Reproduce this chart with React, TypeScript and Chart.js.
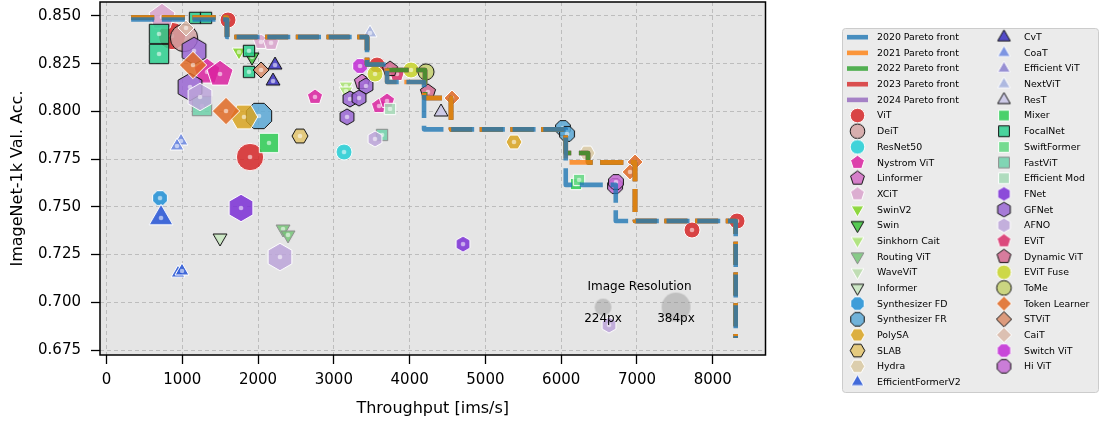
import React, { useEffect, useRef } from 'react';
import { Chart, registerables } from 'chart.js';

Chart.register(...registerables);

const FONT = '"DejaVu Sans", "Liberation Sans", sans-serif';

// ---------------- axes ----------------
const X_TICKS = [0, 1000, 2000, 3000, 4000, 5000, 6000, 7000, 8000];
const Y_TICKS = [0.675, 0.7, 0.725, 0.75, 0.775, 0.8, 0.825, 0.85];
const X_LIMITS = [-86, 8696];
const Y_LIMITS = [0.6724, 0.8573];
const X_TITLE = 'Throughput [ims/s]';
const Y_TITLE = 'ImageNet-1k Val. Acc.';

// ---------------- Pareto fronts: [throughput, accuracy] ----------------
const PARETO_YEARS = ['2020', '2021', '2022', '2023', '2024'];
const PARETO_2020 = [[325, 0.8481], [1590, 0.8481], [3438, 0.839], [3702, 0.8246], [4190, 0.8154], [6060, 0.7906], [6720, 0.7615], [8303, 0.7426], [8303, 0.6813]];
const PARETO_2021 = [[325, 0.8492], [1590, 0.8492], [3438, 0.839], [3702, 0.8246], [4190, 0.8154], [4546, 0.807], [6060, 0.7906], [6974, 0.7733], [8303, 0.7426], [8303, 0.6813]];
const PARETO_2022 = [[325, 0.8492], [1590, 0.8492], [3438, 0.839], [3702, 0.8246], [4203, 0.8217], [4546, 0.807], [6060, 0.7906], [6354, 0.7782], [6974, 0.7733], [8303, 0.7426], [8303, 0.6813]];
const PARETO_2023 = [[325, 0.8492], [1590, 0.8492], [3438, 0.839], [3702, 0.8246], [4203, 0.8217], [4546, 0.807], [6060, 0.7906], [6354, 0.7782], [6974, 0.7733], [8303, 0.7426], [8303, 0.6813]];
const PARETO_2024 = [[325, 0.8492], [1590, 0.8492], [3438, 0.839], [3702, 0.8246], [4203, 0.8217], [4546, 0.807], [6060, 0.7906], [6354, 0.7782], [6974, 0.7733], [8303, 0.7426], [8303, 0.6813]];
const PARETO_COLORS = ['rgba(31,119,180,0.8)', 'rgba(255,127,14,0.8)', 'rgba(44,160,44,0.8)', 'rgba(214,39,40,0.8)', 'rgba(148,103,189,0.8)'];

// ---------------- models: [throughput, accuracy, image resolution] ----------------
const VIT = [[864, 0.8395, 384], [1603, 0.8479, 224], [1894, 0.7761, 384], [3570, 0.8243, 224], [7726, 0.7379, 224], [8320, 0.7426, 224]];
const DEIT = [[1023, 0.8385, 384]];
const RESNET50 = [[3134, 0.7787, 224]];
const NYSTROM_VIT = [[1326, 0.8207, 384], [1498, 0.8196, 384], [2751, 0.8076, 224], [3596, 0.8028, 224], [3702, 0.8055, 224]];
const LINFORMER = [[3372, 0.8154, 224]];
const XCIT = [[732, 0.8495, 384], [2039, 0.8364, 224], [2171, 0.8359, 224]];
const SWINV2 = [[1748, 0.8311, 224]];
const SWIN = [[1920, 0.8285, 224]];
const SINKHORN_CAIT = [[3160, 0.8133, 224], [3160, 0.8107, 224]];
const ROUTING_VIT = [[2329, 0.7384, 224], [2395, 0.7353, 224]];
const WAVEVIT = [];
const INFORMER = [[1498, 0.7337, 224]];
const SYNTH_FD = [[706, 0.7546, 224]];
const SYNTH_FR = [[2012, 0.7976, 384], [6023, 0.7913, 224], [6077, 0.7882, 224]];
const POLYSA = [[1814, 0.7971, 384], [5377, 0.784, 224]];
const SLAB = [[2553, 0.7871, 224]];
const HYDRA = [[6341, 0.7782, 224]];
const EFFICIENTFORMERV2 = [[719, 0.7442, 384], [943, 0.7153, 224], [996, 0.7164, 224]];
const CVT = [[2224, 0.8243, 224], [2197, 0.8159, 224]];
const COAT = [[983, 0.7845, 224], [930, 0.7819, 224]];
const EFFICIENT_VIT = [];
const NEXTVIT = [[3477, 0.8411, 224]];
const REST = [[4414, 0.7997, 224]];
const MIXER = [[2144, 0.7835, 384], [6195, 0.762, 224]];
const FOCALNET = [[693, 0.8406, 384], [693, 0.8301, 384], [1168, 0.849, 224], [1313, 0.849, 224], [1880, 0.8317, 224], [1880, 0.8207, 224]];
const SWIFTFORMER = [[6235, 0.7641, 224]];
const FASTVIT = [[1260, 0.8028, 384], [3636, 0.7877, 224]];
const EFFICIENT_MOD = [[3741, 0.8013, 224]];
const FNET = [[1775, 0.7494, 384], [4705, 0.7305, 224]];
const GFNET = [[1155, 0.8317, 384], [1102, 0.8128, 384], [3424, 0.8133, 224], [3213, 0.8065, 224], [3332, 0.807, 224], [3174, 0.7971, 224]];
const AFNO = [[1234, 0.8076, 384], [2289, 0.7237, 384], [3543, 0.7856, 224], [6631, 0.6881, 224]];
const EVIT = [[3833, 0.8196, 224]];
const DYNAMIC_VIT = [[3741, 0.8222, 224], [4242, 0.8102, 224]];
const EVIT_FUSE = [[3543, 0.8196, 224], [4018, 0.8217, 224]];
const TOME = [[4216, 0.8207, 224]];
const TOKEN_LEARNER = [[1141, 0.8243, 384], [1577, 0.8002, 384], [4559, 0.807, 224], [6974, 0.7735, 224], [6908, 0.7683, 224]];
const STVIT = [[2039, 0.8217, 224]];
const CAIT = [[1049, 0.8437, 224]];
const SWITCH_VIT = [[3346, 0.8238, 224]];
const HI_VIT = [[6710, 0.7609, 224], [6723, 0.763, 224]];

// image-resolution key
const RES_KEY = [[6552, 0.6975, 224], [7515, 0.6975, 384]];
const RES_KEY_LABELS = ['224px', '384px'];
const RES_KEY_TITLE = 'Image Resolution';

// name, data, marker, fill, edge ('k' black, 'w' white, 'g' grey), centre dot
const MODELS = [
  ['ViT', VIT, 'o', '#d62728', 'w', true],
  ['DeiT', DEIT, 'o', '#d4a3a3', 'k', false],
  ['ResNet50', RESNET50, 'o', '#22cfd6', 'w', true],
  ['Nystrom ViT', NYSTROM_VIT, 'p', '#da22a0', 'w', true],
  ['Linformer', LINFORMER, 'p', '#d26cc4', 'k', true],
  ['XCiT', XCIT, 'p', '#d9a3cc', 'w', true],
  ['SwinV2', SWINV2, 'v', '#7ed321', 'w', true],
  ['Swin', SWIN, 'v', '#3cc43a', 'k', true],
  ['Sinkhorn Cait', SINKHORN_CAIT, 'v', '#a8e370', 'w', true],
  ['Routing ViT', ROUTING_VIT, 'v', '#76c577', 'g', true],
  ['WaveViT', WAVEVIT, 'v', '#b9dbaa', 'w', true],
  ['Informer', INFORMER, 'v', '#c8e8c0', 'k', false],
  ['Synthesizer FD', SYNTH_FD, '8', '#1f8fd6', 'w', true],
  ['Synthesizer FR', SYNTH_FR, '8', '#5ba8d6', 'k', true],
  ['PolySA', POLYSA, 'H', '#d9a521', 'w', true],
  ['SLAB', SLAB, 'H', '#e3c46c', 'k', true],
  ['Hydra', HYDRA, 'H', '#d9c9a2', 'w', true],
  ['EfficientFormerV2', EFFICIENTFORMERV2, '^', '#2453d6', 'w', true],
  ['CvT', CVT, '^', '#3a30c2', 'k', true],
  ['CoaT', COAT, '^', '#6a86e0', 'w', true],
  ['Efficient ViT', EFFICIENT_VIT, '^', '#8a80cf', 'w', true],
  ['NextViT', NEXTVIT, '^', '#a3b0de', 'w', true],
  ['ResT', REST, '^', '#c9c5e8', 'k', false],
  ['Mixer', MIXER, 's', '#2ecc55', 'w', true],
  ['FocalNet', FOCALNET, 's', '#2dd08f', 'k', true],
  ['SwiftFormer', SWIFTFORMER, 's', '#62d881', 'w', true],
  ['FastViT', FASTVIT, 's', '#6fd1aa', 'g', true],
  ['Efficient Mod', EFFICIENT_MOD, 's', '#a4d9b6', 'w', true],
  ['FNet', FNET, 'h', '#7b2fd6', 'w', true],
  ['GFNet', GFNET, 'h', '#9a66d4', 'k', true],
  ['AFNO', AFNO, 'h', '#bca4d9', 'w', true],
  ['EViT', EVIT, 'p', '#d92e6a', 'w', true],
  ['Dynamic ViT', DYNAMIC_VIT, 'p', '#d4688f', 'k', true],
  ['EViT Fuse', EVIT_FUSE, 'o', '#c8d52a', 'w', true],
  ['ToMe', TOME, 'o', '#c5d16f', 'k', false],
  ['Token Learner', TOKEN_LEARNER, 'D', '#e06a24', 'w', true],
  ['STViT', STVIT, 'D', '#d98c68', 'k', true],
  ['CaiT', CAIT, 'D', '#d9b8a8', 'w', true],
  ['Switch ViT', SWITCH_VIT, '8', '#c22ad6', 'w', true],
  ['Hi ViT', HI_VIT, '8', '#c46ad4', 'k', true],
];

const radiusFor = (res) => (8 * res) / 224;
const EDGE = { k: '#111111', w: '#ffffff', g: '#8c8c8c' };

function shapePath(ctx, shape, cx, cy, r) {
  ctx.beginPath();
  if (shape === 'o') {
    ctx.arc(cx, cy, r, 0, Math.PI * 2);
    return;
  }
  const spec = { p: [5, 0], '^': [3, 0], v: [3, Math.PI], s: [4, Math.PI / 4], D: [4, 0], h: [6, 0], H: [6, Math.PI / 6], '8': [8, Math.PI / 8] }[shape];
  const n = spec[0];
  const rot = spec[1];
  for (let i = 0; i < n; i++) {
    const a = rot + (i * 2 * Math.PI) / n;
    const x = cx + r * Math.sin(a);
    const y = cy - r * Math.cos(a);
    if (i === 0) ctx.moveTo(x, y);
    else ctx.lineTo(x, y);
  }
  ctx.closePath();
}

const cache = new Map();
function markerCanvas(shape, fill, edge, r, dot, alpha = 0.85) {
  const key = [shape, fill, edge, r, dot, alpha].join('|');
  if (cache.has(key)) return cache.get(key);
  const size = Math.ceil(2 * r + 4);
  const c = document.createElement('canvas');
  c.width = size;
  c.height = size;
  const ctx = c.getContext('2d');
  const cx = size / 2;
  const cy = size / 2;
  shapePath(ctx, shape, cx, cy, r);
  ctx.globalAlpha = alpha;
  ctx.fillStyle = fill;
  ctx.fill();
  if (edge) {
    ctx.globalAlpha = 1;
    ctx.lineWidth = 1;
    ctx.lineJoin = 'miter';
    ctx.strokeStyle = EDGE[edge];
    ctx.stroke();
  }
  if (dot) {
    ctx.beginPath();
    ctx.arc(cx, cy, 2.3, 0, Math.PI * 2);
    ctx.globalAlpha = 1;
    ctx.fillStyle = 'rgba(255,255,255,0.55)';
    ctx.fill();
  }
  cache.set(key, c);
  return c;
}

// ---------------- plugins ----------------
const decorPlugin = {
  id: 'decor',
  beforeDraw(chart) {
    const { ctx, chartArea: a } = chart;
    ctx.save();
    ctx.fillStyle = '#e5e5e5';
    ctx.fillRect(a.left, a.top, a.right - a.left, a.bottom - a.top);
    ctx.restore();
  },
  afterDatasetsDraw(chart) {
    const { ctx, chartArea: a, scales } = chart;
    const xs = scales.x;
    const ys = scales.y;
    ctx.save();
    ctx.fillStyle = '#000';
    ctx.font = `12px ${FONT}`;
    ctx.textAlign = 'center';
    ctx.textBaseline = 'middle';
    const titleX = (RES_KEY[0][0] + RES_KEY[1][0]) / 2;
    ctx.fillText(RES_KEY_TITLE, xs.getPixelForValue(titleX), ys.getPixelForValue(0.708));
    RES_KEY.forEach((p, i) => {
      ctx.fillText(RES_KEY_LABELS[i], xs.getPixelForValue(p[0]), ys.getPixelForValue(0.6912));
    });
    ctx.strokeStyle = '#000';
    ctx.lineWidth = 1.5;
    ctx.strokeRect(a.left, a.top, a.right - a.left, a.bottom - a.top);
    ctx.restore();
  },
  afterDraw(chart) {
    const ctx = chart.ctx;
    ctx.save();
    const bx = 842.5, by = 28.5, bw = 256, bh = 364;
    ctx.beginPath();
    ctx.roundRect(bx, by, bw, bh, 3);
    ctx.fillStyle = '#ebebeb';
    ctx.fill();
    ctx.strokeStyle = '#cccccc';
    ctx.lineWidth = 1;
    ctx.stroke();

    const entries = [];
    PARETO_YEARS.forEach((yr, i) => entries.push({ label: `${yr} Pareto front`, line: PARETO_COLORS[i] }));
    MODELS.forEach((m) => entries.push({ label: m[0], marker: m }));
    const perCol = Math.ceil(entries.length / 2);
    const y0 = 37.2;
    const dy = 15.67;
    ctx.font = `9.4px ${FONT}`;
    ctx.textBaseline = 'middle';
    ctx.textAlign = 'left';
    entries.forEach((e, i) => {
      const col = i < perCol ? 0 : 1;
      const row = col === 0 ? i : i - perCol;
      const cx = col === 0 ? 857.5 : 1004;
      const tx = col === 0 ? 877 : 1024;
      const y = y0 + row * dy;
      if (e.line) {
        ctx.fillStyle = e.line;
        ctx.fillRect(cx - 10.5, y - 2.3, 21, 4.6);
      } else {
        const m = e.marker;
        const r = m[2] === 'D' || m[2] === 's' ? 7.6 : 7.3;
        const img = markerCanvas(m[2], m[3], m[4], r, false);
        ctx.drawImage(img, cx - img.width / 2, y - img.height / 2);
      }
      ctx.fillStyle = '#000';
      ctx.fillText(e.label, tx, y + 0.5);
    });
    ctx.restore();
  },
};

function buildDatasets() {
  const fronts = [PARETO_2020, PARETO_2021, PARETO_2022, PARETO_2023, PARETO_2024];
  const ds = [];
  fronts.forEach((f, i) => {
    ds.push({
      type: 'line',
      label: `${PARETO_YEARS[i]} Pareto front`,
      data: f.map((p) => ({ x: p[0], y: p[1] })),
      borderColor: PARETO_COLORS[i],
      backgroundColor: PARETO_COLORS[i],
      borderWidth: 4.6,
      borderDash: [23, 7.7],
      borderCapStyle: 'butt',
      borderJoinStyle: 'round',
      stepped: 'after',
      pointRadius: 0,
      fill: false,
      order: -10 + i,
    });
  });
  MODELS.forEach((m, i) => {
    const pts = m[1];
    ds.push({
      type: 'scatter',
      label: m[0],
      data: pts.map((p) => ({ x: p[0], y: p[1] })),
      pointStyle: pts.map((p) => markerCanvas(m[2], m[3], m[4], radiusFor(p[2]), m[5])),
      pointRadius: pts.map((p) => radiusFor(p[2])),
      order: 100 - i,
    });
  });
  ds.push({
    type: 'scatter',
    label: RES_KEY_TITLE,
    data: RES_KEY.map((p) => ({ x: p[0], y: p[1] })),
    pointStyle: RES_KEY.map((p) => markerCanvas('o', '#8a8a8a', null, radiusFor(p[2]) * 1.05, false, 0.4)),
    pointRadius: RES_KEY.map((p) => radiusFor(p[2])),
    order: 500,
  });
  return ds;
}

export default function App() {
  const ref = useRef(null);
  useEffect(() => {
    document.body.style.margin = '0';
    const chart = new Chart(ref.current, {
      type: 'scatter',
      data: { datasets: buildDatasets() },
      options: {
        responsive: false,
        animation: false,
        devicePixelRatio: 1,
        events: [],
        layout: { autoPadding: false, padding: { left: 0, top: 2, right: 336.5, bottom: 0 } },
        plugins: { legend: { display: false }, tooltip: { enabled: false } },
        scales: {
          x: {
            type: 'linear',
            min: X_LIMITS[0],
            max: X_LIMITS[1],
            afterBuildTicks: (s) => {
              s.ticks = X_TICKS.map((value) => ({ value }));
            },
            afterFit: (s) => {
              s.height = 68;
              s.paddingLeft = 0;
              s.paddingRight = 0;
            },
            grid: { color: '#b3b3b3', lineWidth: 0.8, tickLength: 9, tickColor: '#000', tickWidth: 1.3 },
            border: { display: false, dash: [4, 3] },
            ticks: { color: '#000', font: { family: FONT, size: 15 }, padding: 7, maxRotation: 0, autoSkip: false, callback: (v) => String(v) },
            title: { display: true, text: X_TITLE, color: '#000', font: { family: FONT, size: 16 }, padding: { top: 0, bottom: 5 } },
          },
          y: {
            type: 'linear',
            min: Y_LIMITS[0],
            max: Y_LIMITS[1],
            afterBuildTicks: (s) => {
              s.ticks = Y_TICKS.map((value) => ({ value }));
            },
            afterFit: (s) => {
              s.width = 100;
              s.paddingTop = 0;
              s.paddingBottom = 0;
            },
            grid: { color: '#b3b3b3', lineWidth: 0.8, tickLength: 9, tickColor: '#000', tickWidth: 1.3 },
            border: { display: false, dash: [4, 3] },
            ticks: { color: '#000', font: { family: FONT, size: 15 }, padding: 10, callback: (v) => Number(v).toFixed(3) },
            title: { display: true, text: Y_TITLE, color: '#000', font: { family: FONT, size: 16 }, padding: { top: 8, bottom: 0 } },
          },
        },
      },
      plugins: [decorPlugin],
    });
    return () => chart.destroy();
  }, []);
  return (
    <div style={{ width: 1102, height: 423 }}>
      <canvas ref={ref} width={1102} height={423} style={{ display: 'block' }} />
    </div>
  );
}
